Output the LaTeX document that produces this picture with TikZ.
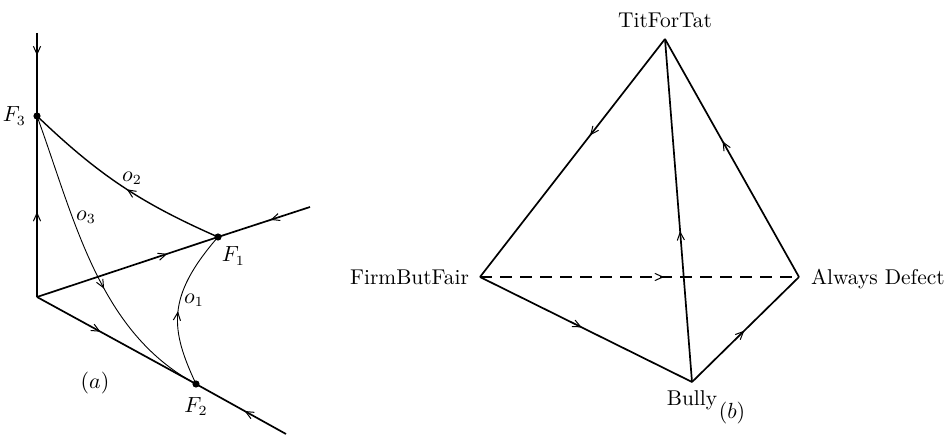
\documentclass[tikz,border=0pt]{standalone}
\usepackage{amsmath}
\usepackage{tikz}
\usetikzlibrary{arrows.meta,decorations.markings,positioning}
\tikzset{
  axisline/.style={line width=0.85pt,draw=black},
  orbit/.style={line width=0.45pt,draw=black},
  edge/.style={line width=0.85pt,draw=black},
  dot/.style={circle,fill=black,inner sep=0pt,minimum size=3.6pt},
  midarrow/.style={postaction={decorate},decoration={markings,mark=at position #1 with {\arrow{Straight Barb[length=4pt,width=3.6pt,line width=0.5pt]}}}}
}

\begin{document}
\begin{tikzpicture}[x=0.5pt,y=0.5pt,font=\fontsize{10.7pt}{13pt}\selectfont]
  \useasboundingbox (0,0) rectangle (944,435);
  % (a) phase portrait
  \coordinate (O) at (37,138);
  \coordinate (top) at (37,402);
  \coordinate (F1far) at (310,228);
  \coordinate (F2far) at (286,1);
  \node[dot] (F3) at (37,319) {};
  \node[dot] (F1) at (218,198) {};
  \node[dot] (F2) at (196,51) {};
  \node[left=0pt of F3] (lF3) {$F_3$};
  \node[below right=0pt and -3pt of F1] (lF1) {$F_1$};
  \node[below=1pt of F2] (lF2) {$F_2$};
  \draw[axisline,midarrow=0.27] (top) -- (F3.center);
  \draw[axisline,midarrow=0.47] (O) -- (F3.center);
  \draw[axisline,midarrow=0.72] (O) -- (F1.center);
  \draw[axisline,midarrow=0.43] (F1far) -- (F1.center);
  \draw[axisline,midarrow=0.40] (O) -- (F2.center);
  \draw[axisline,midarrow=0.46] (F2far) -- (F2.center);
  \draw[orbit,line width=0.7pt,midarrow=0.47] (F1.center) to[bend left=10] (F3.center);
  \draw[orbit,midarrow=0.58] (F3.center) to[out=-70,in=152,out distance=55pt,in distance=55pt] (F2.center);
  \draw[orbit,midarrow=0.47] (F2.center) to[out=115,in=229,out distance=30pt,in distance=40pt] (F1.center);
  \node (lo2) at (132,257) {$o_2$};
  \node (lo3) at (86,218) {$o_3$};
  \node (lo1) at (194,135) {$o_1$};
  \node (capa) at (95,52) {$(a)$};
  % (b) strategy simplex
  \coordinate[label={[label distance=2pt]above:TitForTat}] (tft) at (665,396);
  \coordinate[label={[label distance=2pt,text depth=0pt]left:FirmButFair}] (fbf) at (480,158);
  \coordinate[label={[label distance=2.5pt,text depth=0pt]right:Always Defect}] (ad) at (799,158);
  \coordinate[label={[label distance=1pt]below:Bully}] (bully) at (692,53);
  \draw[edge,midarrow=0.405] (tft) -- (fbf);
  \draw[edge,midarrow=0.57] (ad) -- (tft);
  \draw[edge,midarrow=0.44] (bully) -- (tft);
  \draw[edge,dash pattern=on 6pt off 4pt,midarrow=0.577] (fbf) -- (ad);
  \draw[edge,midarrow=0.48] (fbf) -- (bully);
  \draw[edge,midarrow=0.49] (bully) -- (ad);
  \node (capb) at (732,22) {$(b)$};
\end{tikzpicture}
\end{document}
